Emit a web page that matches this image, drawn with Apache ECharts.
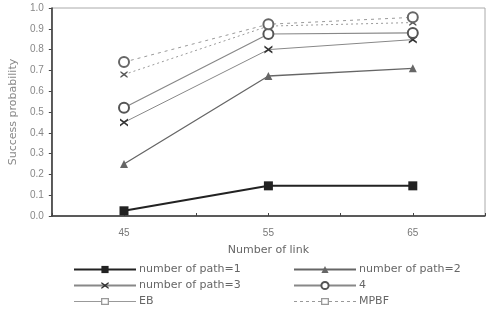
<!DOCTYPE html>
<html>
<head>
    <meta charset="UTF-8">
    <title>Success probability</title>
    <script src="https://cdn.jsdelivr.net/npm/echarts@6/dist/echarts.min.js"></script>
    <style>
    html, body { margin: 0; padding: 0; background: #fff; }
    #chart { width: 488px; height: 309px; }
    </style>
</head>
<body>
<div id="chart"></div>
<script>
// data
var links = [45, 55, 65];
var path1 = [0.025, 0.145, 0.145];
var path2 = [0.25, 0.673, 0.71];
var path3 = [0.45, 0.80, 0.848];
var path4 = [0.52, 0.875, 0.88];
var eb    = [0.68, 0.913, 0.93];
var mpbf  = [0.74, 0.922, 0.955];
var xTickLabels = [45, 55, 65];

function pairs(ys) {
    return links.map(function (x, i) { return [x, ys[i]]; });
}

var font = 'Liberation Sans';
var wide = 'DejaVu Sans';
var xMark = 'path://M0,0L5,3.5L10,0L10,2.5L6.5,5L10,7.5L10,10L5,6.5L0,10L0,7.5L3.5,5L0,2.5Z';
// legend icons: line with a small hollow square in the middle
var ebIcon = 'path://M0,3.6H27V4.4H0Z M35,3.6H62V4.4H35Z M27,0.5H35V7.5H27Z M28.3,1.8V6.2H33.7V1.8Z';
var mpbfIcon = 'path://M0,3.6H3V4.4H0Z M6,3.6H9V4.4H6Z M12,3.6H15V4.4H12Z M18,3.6H21V4.4H18Z M24,3.6H27V4.4H24Z' +
    ' M35,3.6H38V4.4H35Z M41,3.6H44V4.4H41Z M47,3.6H50V4.4H47Z M53,3.6H56V4.4H53Z M59,3.6H62V4.4H59Z' +
    ' M27,0.5H35V7.5H27Z M28.3,1.8V6.2H33.7V1.8Z';

var chart = echarts.init(document.getElementById('chart'));
var legendCommon = {
    orient: 'vertical',
    top: 264,
    padding: 0,
    itemGap: 5,
    itemWidth: 62,
    itemHeight: 9,
    textStyle: { fontFamily: wide, fontSize: 11, color: '#666', padding: [0, 0, 0, -2] },
    selectedMode: false
};

var option = {
    animation: false,
    textStyle: { fontFamily: font },
    grid: {
        left: 48, right: 2, top: 8, bottom: 93,
        show: true, borderColor: '#aaa', borderWidth: 1
    },
    legend: [
        Object.assign({}, legendCommon, {
            left: 73,
            data: ['number of path=1', 'number of path=3',
                { name: 'EB', icon: ebIcon, itemStyle: { color: '#999', borderWidth: 0 } }]
        }),
        Object.assign({}, legendCommon, {
            left: 293,
            data: ['number of path=2', '4',
                { name: 'MPBF', icon: mpbfIcon, itemStyle: { color: '#999', borderWidth: 0 } }]
        })
    ],
    xAxis: {
        type: 'value',
        min: 40, max: 70, interval: 5,
        name: 'Number of link',
        nameLocation: 'middle',
        nameGap: 29,
        nameTextStyle: { fontFamily: wide, fontSize: 11, color: '#666' },
        axisLine: { lineStyle: { color: '#333', width: 1.5 } },
        axisTick: { inside: true, length: 3, lineStyle: { color: '#444' } },
        splitLine: { show: false },
        axisLabel: {
            margin: 12, fontSize: 10, color: '#777',
            formatter: function (v) { return xTickLabels.indexOf(v) >= 0 ? v : ''; }
        }
    },
    yAxis: {
        type: 'value',
        min: 0, max: 1, interval: 0.1,
        name: 'Success probability',
        nameLocation: 'middle',
        nameGap: 31,
        nameTextStyle: { fontFamily: wide, fontSize: 11, color: '#888' },
        axisLine: { show: true, lineStyle: { color: '#333', width: 1.5 } },
        axisTick: { show: true, length: 3, lineStyle: { color: '#444' } },
        splitLine: { show: false },
        axisLabel: {
            margin: 8, fontSize: 10, color: '#888',
            formatter: function (v) { return v.toFixed(1); }
        }
    },
    series: [
        {
            name: 'number of path=1', type: 'line', data: pairs(path1),
            symbol: 'rect', symbolSize: 9,
            lineStyle: { color: '#222', width: 2 },
            itemStyle: { color: '#222' }
        },
        {
            name: 'number of path=2', type: 'line', data: pairs(path2),
            symbol: 'triangle', symbolSize: 8,
            lineStyle: { color: '#666', width: 1.3 },
            itemStyle: { color: '#666' }
        },
        {
            name: 'number of path=3', type: 'line', data: pairs(path3),
            symbol: xMark, symbolSize: 8,
            lineStyle: { color: '#888', width: 1 },
            itemStyle: { color: '#333' }
        },
        {
            name: '4', type: 'line', data: pairs(path4),
            symbol: 'emptyCircle', symbolSize: 10,
            lineStyle: { color: '#888', width: 1.2 },
            itemStyle: { color: '#555', borderColor: '#555', borderWidth: 2 }
        },
        {
            name: 'EB', type: 'line', data: pairs(eb),
            symbol: xMark, symbolSize: 7,
            lineStyle: { color: '#999', width: 1, type: [2, 3] },
            itemStyle: { color: '#555' }
        },
        {
            name: 'MPBF', type: 'line', data: pairs(mpbf),
            symbol: 'emptyCircle', symbolSize: 10,
            lineStyle: { color: '#999', width: 1, type: [3, 4] },
            itemStyle: { color: '#666', borderColor: '#666', borderWidth: 2 }
        }
    ]
};

chart.setOption(option);
</script>
</body>
</html>
